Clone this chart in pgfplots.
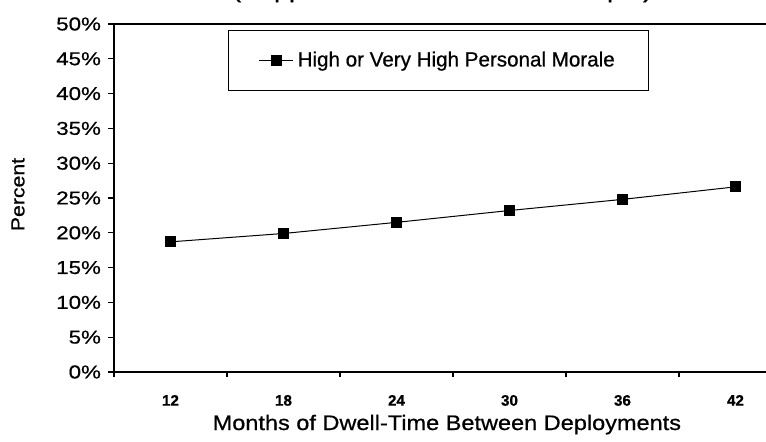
\documentclass[border=0pt]{standalone}
\usepackage{pgfplots}
\pgfplotsset{compat=1.18}
\usepackage{fontspec}
\setmainfont{Liberation Sans}[FakeBold=0.7]
\newfontfamily\ytickfont{Liberation Sans}[FakeStretch=1.2, FakeBold=0.7]
\newfontfamily\xtitlefont{Liberation Sans}[FakeStretch=1.12, FakeBold=0.7]
\newfontfamily\ylabfont{Liberation Sans}[FakeStretch=1.13, FakeBold=0.7]
\begin{document}
\begin{tikzpicture}
\useasboundingbox (-57pt,-35pt) rectangle (326pt,186pt);
\begin{axis}[
  at={(0,0)}, anchor=south west,
  scale only axis, width=339pt, height=174pt,
  xmin=-0.5, xmax=5.5, ymin=0, ymax=50,
  axis line style={line width=0.75pt},
  /pgf/number format/assume math mode=true,
  xtick={0,1,2,3,4,5},
  xticklabels={12,18,24,30,36,42},
  major x tick style={draw=none},
  minor xtick={-0.5,0.5,1.5,2.5,3.5,4.5,5.5},
  ytick={0,5,...,50},
  yticklabel={\pgfmathprintnumber{\tick}\%},
  tick align=outside, tick pos=left,
  major tick length=3pt, minor tick length=2.5pt,
  tick style={black, line width=0.6pt},
  xticklabel style={font=\fontsize{7.6}{9}\selectfont\bfseries, yshift=-5pt},
  yticklabel style={font=\ytickfont\fontsize{9.3}{11}\selectfont},
  xlabel={Months of Dwell-Time Between Deployments},
  xlabel style={font=\xtitlefont\fontsize{10.5}{12}\selectfont, at={(rel axis cs:0.491,-0.1667)}, anchor=base},
  ylabel={Percent},
  ylabel style={font=\ylabfont\fontsize{9.4}{11}\selectfont, at={(rel axis cs:-0.1416,0.51)}, anchor=center},
  title={(Support and Sustainment Sample)},
  title style={font=\xtitlefont\fontsize{12}{13}\selectfont, at={(rel axis cs:0.484,1.042)}, anchor=base},
  legend style={at={(rel axis cs:0.168,0.983)}, anchor=north west, draw=black, line width=0.6pt,
    inner xsep=15pt, inner ysep=8.5pt, font=\fontsize{10.3}{12}\selectfont, cells={anchor=west}},
]
\addplot[black, line width=0.5pt, mark=square*, mark size=2.5pt, mark options={solid, fill=black}]
  coordinates {(0,18.7) (1,19.9) (2,21.5) (3,23.2) (4,24.8) (5,26.6)};
\addlegendentry{High or Very High Personal Morale\hspace{7pt}}
\end{axis}
\end{tikzpicture}
\end{document}
